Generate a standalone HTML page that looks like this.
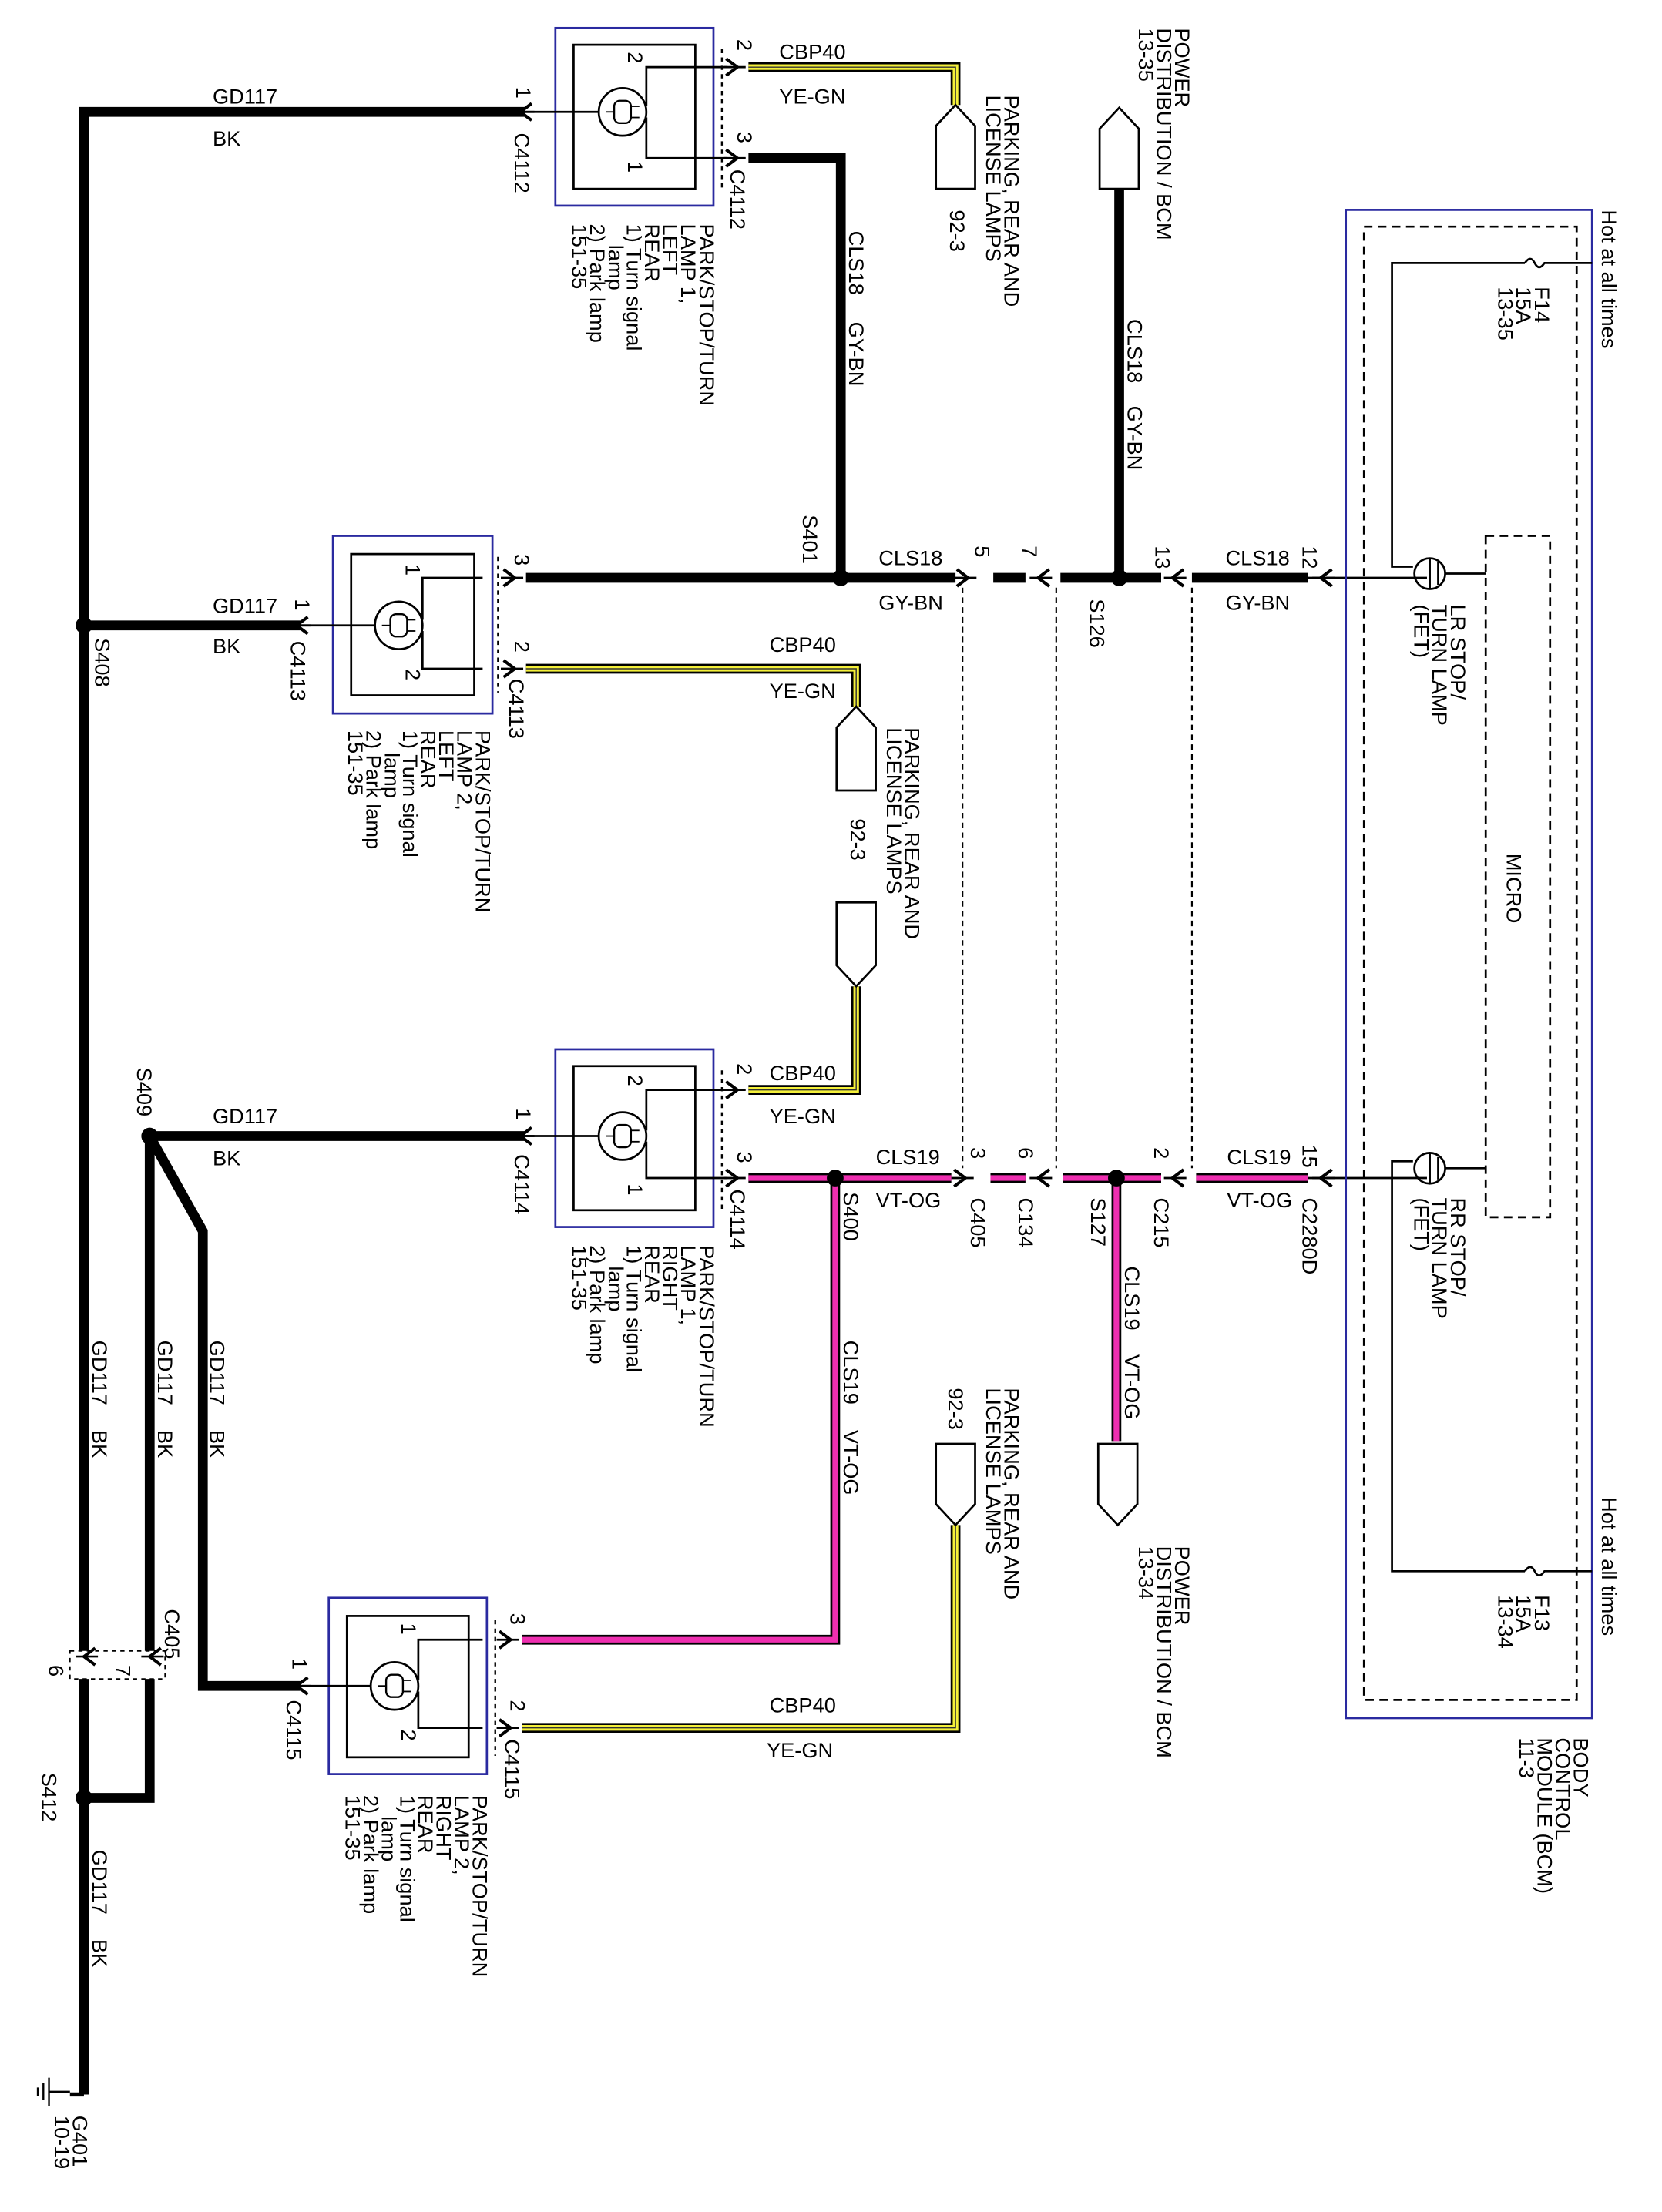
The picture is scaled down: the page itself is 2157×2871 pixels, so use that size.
<!DOCTYPE html>
<html><head><meta charset="utf-8"><style>html,body{margin:0;padding:0;background:#fff}svg{display:block}text{font-family:"Liberation Sans",sans-serif;font-size:15px;fill:#000}</style></head><body>
<svg width="2157" height="2871" viewBox="0 0 1188 1581" preserveAspectRatio="none" xmlns="http://www.w3.org/2000/svg">
<rect width="1188" height="1581" fill="#fff"/>
<defs>
<g id="pinR"><path d="M-8,-6 L0,0 L-8,6" fill="none" stroke="#000" stroke-width="2.2"/><line x1="-10" y1="0" x2="6" y2="0" stroke="#000" stroke-width="1.5"/></g>
<g id="pinL"><path d="M8,-6 L0,0 L8,6" fill="none" stroke="#000" stroke-width="2.2"/><line x1="10" y1="0" x2="-6" y2="0" stroke="#000" stroke-width="1.5"/></g>
<g id="lamp"><circle cx="0" cy="0" r="17" fill="#fff" stroke="#000" stroke-width="1.5"/><rect x="-6" y="-8" width="12" height="16" rx="4" fill="none" stroke="#000" stroke-width="1.3"/><line x1="-12" y1="0" x2="-6" y2="0" stroke="#000"/><line x1="6" y1="-4" x2="12" y2="-4" stroke="#000"/><line x1="6" y1="4" x2="12" y2="4" stroke="#000"/></g>
</defs>
<g stroke="#000" stroke-width="7" fill="none" stroke-linejoin="miter">
<path d="M375,80 H60 V1180"/>
<path d="M60,1200 V1497"/>
<path d="M60,447 H215"/>
<path d="M375,812 H107 V1180"/>
<path d="M107,1200 V1285 H60"/>
<path d="M107,812 L145,880 V1205 H215"/>
</g>
<line x1="50" y1="1497" x2="60" y2="1497" stroke="#000" stroke-width="3"/>
<g stroke="#000" stroke-width="1.3"><line x1="35" y1="1485" x2="35" y2="1505"/><line x1="31" y1="1489" x2="31" y2="1501"/><line x1="27" y1="1492" x2="27" y2="1498"/><line x1="35" y1="1495" x2="50" y2="1495"/></g>
<rect x="50" y="1180" width="68" height="20" fill="none" stroke="#000" stroke-dasharray="3,3"/>
<use href="#pinL" x="60" y="1184"/><use href="#pinL" x="107" y="1184"/>
<circle cx="60" cy="447" r="6"/><circle cx="107" cy="812" r="6"/><circle cx="60" cy="1285" r="6"/>
<g fill="none">
<rect x="397" y="20" width="113" height="127" stroke="#2a2aa0" stroke-width="1.5"/><rect x="410" y="32" width="87" height="103" stroke="#000" stroke-width="1.5"/>
<rect x="238" y="383" width="114" height="127" stroke="#2a2aa0" stroke-width="1.5"/><rect x="251" y="396" width="88" height="101" stroke="#000" stroke-width="1.5"/>
<rect x="397" y="750" width="113" height="127" stroke="#2a2aa0" stroke-width="1.5"/><rect x="410" y="762" width="87" height="103" stroke="#000" stroke-width="1.5"/>
<rect x="235" y="1142" width="113" height="126" stroke="#2a2aa0" stroke-width="1.5"/><rect x="248" y="1155" width="87" height="101" stroke="#000" stroke-width="1.5"/>
</g>
<g stroke="#000" stroke-width="1.3" stroke-dasharray="3,3"><line x1="516" y1="35" x2="516" y2="135"/><line x1="356" y1="398" x2="356" y2="495"/><line x1="516" y1="765" x2="516" y2="865"/><line x1="354" y1="1158" x2="354" y2="1255"/></g>
<g stroke="#000" stroke-width="1.5" fill="none">
<path d="M375,80 H428"/><path d="M462,76 V48 H520"/><path d="M462,84 V113 H520"/>
<path d="M215,447 H268"/><path d="M302,443 V413 H345"/><path d="M302,451 V478 H345"/>
<path d="M375,812 H428"/><path d="M462,808 V779 H520"/><path d="M462,816 V842 H520"/>
<path d="M215,1205 H265"/><path d="M299,1201 V1172 H345"/><path d="M299,1209 V1235 H345"/>
</g>
<use href="#lamp" x="445" y="80"/><use href="#lamp" x="285" y="447"/><use href="#lamp" x="445" y="812"/><use href="#lamp" x="282" y="1205"/>
<use href="#pinR" x="527" y="48"/><use href="#pinR" x="527" y="113"/><use href="#pinL" x="372" y="80"/>
<use href="#pinR" x="368" y="413"/><use href="#pinR" x="368" y="478"/><use href="#pinL" x="212" y="447"/>
<use href="#pinR" x="527" y="779"/><use href="#pinR" x="527" y="842"/><use href="#pinL" x="372" y="812"/>
<use href="#pinR" x="365" y="1172"/><use href="#pinR" x="365" y="1235"/><use href="#pinL" x="212" y="1205"/>
<g fill="none" stroke-linejoin="miter">
<path d="M535,48 H683 V75" stroke="#000" stroke-width="7"/><path d="M535,48 H683 V75" stroke="#f4f03a" stroke-width="4"/><path d="M535,48 H683 V75" stroke="#333" stroke-width="0.8"/>
<path d="M376,478 H612 V505" stroke="#000" stroke-width="7"/><path d="M376,478 H612 V505" stroke="#f4f03a" stroke-width="4"/><path d="M376,478 H612 V505" stroke="#333" stroke-width="0.8"/>
<path d="M612,705 V779 H535" stroke="#000" stroke-width="7"/><path d="M612,705 V779 H535" stroke="#f4f03a" stroke-width="4"/><path d="M612,705 V779 H535" stroke="#333" stroke-width="0.8"/>
<path d="M373,1235 H683 V1090" stroke="#000" stroke-width="7"/><path d="M373,1235 H683 V1090" stroke="#f4f03a" stroke-width="4"/><path d="M373,1235 H683 V1090" stroke="#333" stroke-width="0.8"/>
</g>
<g stroke="#000" stroke-width="7" fill="none">
<path d="M535,113 H601 V413"/><path d="M376,413 H683"/><path d="M710,413 H733"/><path d="M758,413 H830"/><path d="M852,413 H935"/><path d="M800,413 V135"/>
</g>
<line x1="935" y1="413" x2="1020" y2="413" stroke="#000" stroke-width="1.5"/>
<g fill="none" stroke-linejoin="miter">
<path d="M535,842 H680 M708,842 H733 M760,842 H830 M855,842 H935 M597,842 V1172 H373 M798,842 V1030" stroke="#000" stroke-width="7"/>
<path d="M535,842 H680 M708,842 H733 M760,842 H830 M855,842 H935 M597,842 V1172 H373 M798,842 V1030" stroke="#ee2fb0" stroke-width="4"/>
</g>
<line x1="935" y1="842" x2="1020" y2="842" stroke="#000" stroke-width="1.5"/>
<circle cx="601" cy="413" r="6"/><circle cx="800" cy="413" r="6"/><circle cx="597" cy="842" r="6"/><circle cx="798" cy="842" r="6"/>
<use href="#pinR" x="692" y="413"/><use href="#pinL" x="742" y="413"/><use href="#pinL" x="838" y="413"/><use href="#pinL" x="944" y="413"/>
<use href="#pinR" x="690" y="842"/><use href="#pinL" x="742" y="842"/><use href="#pinL" x="838" y="842"/><use href="#pinL" x="944" y="842"/>
<g stroke="#000" stroke-dasharray="4,3" stroke-width="1.2"><line x1="688" y1="420" x2="688" y2="835"/><line x1="755" y1="420" x2="755" y2="835"/><line x1="852" y1="420" x2="852" y2="835"/></g>
<g fill="#fff" stroke="#000" stroke-width="1.5">
<path d="M669,135 V90 L683,75 L697,90 V135 Z"/>
<path d="M786,135 V92 L800,77 L814,92 V135 Z"/>
<path d="M598,565 V520 L612,505 L626,520 V565 Z"/>
<path d="M598,645 V690 L612,705 L626,690 V645 Z"/>
<path d="M669,1032 V1075 L683,1090 L697,1075 V1032 Z"/>
<path d="M785,1032 V1075 L799,1090 L813,1075 V1032 Z"/>
</g>
<rect x="962" y="150" width="176" height="1078" fill="none" stroke="#2a2aa0" stroke-width="1.5"/>
<rect x="975" y="162" width="152" height="1053" fill="none" stroke="#000" stroke-width="1.5" stroke-dasharray="6,4"/>
<rect x="1062" y="383" width="46" height="487" fill="none" stroke="#000" stroke-width="1.5" stroke-dasharray="6,4"/>
<g stroke="#000" stroke-width="1.5" fill="none">
<path d="M1090,188 H995 V405 H1010"/><path d="M1090,188 q4,-6 7,0 q3,6 7,0 H1138"/>
<path d="M1090,1123 H995 V830 H1010"/><path d="M1090,1123 q4,-6 7,0 q3,6 7,0 H1138"/>
<circle cx="1022" cy="410" r="11"/><circle cx="1022" cy="835" r="11"/>
<path d="M1022,399 V421 M1028,402 V418 M1033,410 H1062"/><path d="M1022,824 V846 M1028,827 V843 M1033,835 H1062"/>
</g>
<text x="152" y="74">GD117</text><text x="152" y="104">BK</text>
<text x="152" y="438">GD117</text><text x="152" y="467">BK</text>
<text x="152" y="803">GD117</text><text x="152" y="833">BK</text>
<text x="557" y="42">CBP40</text><text x="557" y="74">YE-GN</text>
<text x="628" y="404">CLS18</text><text x="628" y="436">GY-BN</text>
<text x="876" y="404">CLS18</text><text x="876" y="436">GY-BN</text>
<text x="550" y="466">CBP40</text><text x="550" y="499">YE-GN</text>
<text x="550" y="772">CBP40</text><text x="550" y="803">YE-GN</text>
<text x="626" y="832">CLS19</text><text x="626" y="863">VT-OG</text>
<text x="877" y="832">CLS19</text><text x="877" y="863">VT-OG</text>
<text x="550" y="1224">CBP40</text><text x="548" y="1256">YE-GN</text>
<g>
<text transform="translate(369,62) rotate(90)">1</text>
<text transform="translate(368,95) rotate(90)">C4112</text>
<text transform="translate(527,28) rotate(90)">2</text>
<text transform="translate(527,94) rotate(90)">3</text>
<text transform="translate(522,121) rotate(90)">C4112</text>
<text transform="translate(449,37) rotate(90)" font-size="12">2</text><text transform="translate(449,115) rotate(90)" font-size="12">1</text>
<text transform="translate(500,160) rotate(90)">PARK/STOP/TURN</text>
<text transform="translate(487,160) rotate(90)">LAMP 1,</text>
<text transform="translate(474,160) rotate(90)">LEFT</text>
<text transform="translate(461,160) rotate(90)">REAR</text>
<text transform="translate(448,160) rotate(90)">1) Turn signal</text>
<text transform="translate(435,175) rotate(90)">lamp</text>
<text transform="translate(422,160) rotate(90)">2) Park lamp</text>
<text transform="translate(409,160) rotate(90)">151-35</text>
<text transform="translate(607,165) rotate(90)">CLS18</text><text transform="translate(607,230) rotate(90)">GY-BN</text>
<text transform="translate(718,68) rotate(90)">PARKING, REAR AND</text>
<text transform="translate(705,68) rotate(90)">LICENSE LAMPS</text>
<text transform="translate(679,150) rotate(90)">92-3</text>
<text transform="translate(840,20) rotate(90)">POWER</text>
<text transform="translate(827,20) rotate(90)">DISTRIBUTION / BCM</text>
<text transform="translate(814,20) rotate(90)">13-35</text>
<text transform="translate(806,228) rotate(90)">CLS18</text><text transform="translate(806,290) rotate(90)">GY-BN</text>
<text transform="translate(1145,150) rotate(90)">Hot at all times</text>
<text transform="translate(1097,205) rotate(90)">F14</text>
<text transform="translate(1084,205) rotate(90)">15A</text>
<text transform="translate(1071,205) rotate(90)">13-35</text>
<text transform="translate(574,368) rotate(90)">S401</text>
<text transform="translate(697,390) rotate(90)">5</text><text transform="translate(731,390) rotate(90)">7</text>
<text transform="translate(826,390) rotate(90)">13</text><text transform="translate(931,390) rotate(90)">12</text>
<text transform="translate(779,428) rotate(90)">S126</text>
<text transform="translate(1037,432) rotate(90)">LR STOP/</text>
<text transform="translate(1024,432) rotate(90)">TURN LAMP</text>
<text transform="translate(1011,432) rotate(90)">(FET)</text>
<text transform="translate(1077,610) rotate(90)">MICRO</text>
<text transform="translate(211,428) rotate(90)">1</text>
<text transform="translate(208,458) rotate(90)">C4113</text>
<text transform="translate(368,396) rotate(90)">3</text><text transform="translate(368,458) rotate(90)">2</text>
<text transform="translate(364,485) rotate(90)">C4113</text>
<text transform="translate(290,403) rotate(90)" font-size="12">1</text><text transform="translate(290,478) rotate(90)" font-size="12">2</text>
<text transform="translate(68,456) rotate(90)">S408</text>
<text transform="translate(340,522) rotate(90)">PARK/STOP/TURN</text>
<text transform="translate(327,522) rotate(90)">LAMP 2,</text>
<text transform="translate(314,522) rotate(90)">LEFT</text>
<text transform="translate(301,522) rotate(90)">REAR</text>
<text transform="translate(288,522) rotate(90)">1) Turn signal</text>
<text transform="translate(275,538) rotate(90)">lamp</text>
<text transform="translate(262,522) rotate(90)">2) Park lamp</text>
<text transform="translate(249,522) rotate(90)">151-35</text>
<text transform="translate(647,520) rotate(90)">PARKING, REAR AND</text>
<text transform="translate(634,520) rotate(90)">LICENSE LAMPS</text>
<text transform="translate(608,585) rotate(90)">92-3</text>
<text transform="translate(98,763) rotate(90)">S409</text>
<text transform="translate(369,792) rotate(90)">1</text>
<text transform="translate(368,825) rotate(90)">C4114</text>
<text transform="translate(527,760) rotate(90)">2</text><text transform="translate(527,823) rotate(90)">3</text>
<text transform="translate(522,850) rotate(90)">C4114</text>
<text transform="translate(449,768) rotate(90)" font-size="12">2</text><text transform="translate(449,846) rotate(90)" font-size="12">1</text>
<text transform="translate(500,890) rotate(90)">PARK/STOP/TURN</text>
<text transform="translate(487,890) rotate(90)">LAMP 1,</text>
<text transform="translate(474,890) rotate(90)">RIGHT</text>
<text transform="translate(461,890) rotate(90)">REAR</text>
<text transform="translate(448,890) rotate(90)">1) Turn signal</text>
<text transform="translate(435,905) rotate(90)">lamp</text>
<text transform="translate(422,890) rotate(90)">2) Park lamp</text>
<text transform="translate(409,890) rotate(90)">151-35</text>
<text transform="translate(603,852) rotate(90)">S400</text>
<text transform="translate(694,820) rotate(90)">3</text><text transform="translate(728,820) rotate(90)">6</text>
<text transform="translate(825,820) rotate(90)">2</text><text transform="translate(931,818) rotate(90)">15</text>
<text transform="translate(694,856) rotate(90)">C405</text><text transform="translate(728,856) rotate(90)">C134</text>
<text transform="translate(780,856) rotate(90)">S127</text><text transform="translate(825,856) rotate(90)">C215</text>
<text transform="translate(931,856) rotate(90)">C2280D</text>
<text transform="translate(1037,856) rotate(90)">RR STOP/</text>
<text transform="translate(1024,856) rotate(90)">TURN LAMP</text>
<text transform="translate(1011,856) rotate(90)">(FET)</text>
<text transform="translate(603,958) rotate(90)">CLS19</text><text transform="translate(603,1022) rotate(90)">VT-OG</text>
<text transform="translate(804,905) rotate(90)">CLS19</text><text transform="translate(804,968) rotate(90)">VT-OG</text>
<text transform="translate(718,992) rotate(90)">PARKING, REAR AND</text>
<text transform="translate(705,992) rotate(90)">LICENSE LAMPS</text>
<text transform="translate(678,992) rotate(90)">92-3</text>
<text transform="translate(840,1105) rotate(90)">POWER</text>
<text transform="translate(827,1105) rotate(90)">DISTRIBUTION / BCM</text>
<text transform="translate(814,1105) rotate(90)">13-34</text>
<text transform="translate(1145,1070) rotate(90)">Hot at all times</text>
<text transform="translate(1097,1140) rotate(90)">F13</text>
<text transform="translate(1084,1140) rotate(90)">15A</text>
<text transform="translate(1071,1140) rotate(90)">13-34</text>
<text transform="translate(1125,1242) rotate(90)">BODY</text>
<text transform="translate(1112,1242) rotate(90)">CONTROL</text>
<text transform="translate(1099,1242) rotate(90)">MODULE (BCM)</text>
<text transform="translate(1086,1242) rotate(90)">11-3</text>
<text transform="translate(66,958) rotate(90)">GD117</text><text transform="translate(66,1022) rotate(90)">BK</text>
<text transform="translate(113,958) rotate(90)">GD117</text><text transform="translate(113,1022) rotate(90)">BK</text>
<text transform="translate(150,958) rotate(90)">GD117</text><text transform="translate(150,1022) rotate(90)">BK</text>
<text transform="translate(118,1150) rotate(90)">C405</text>
<text transform="translate(35,1190) rotate(90)">6</text><text transform="translate(83,1190) rotate(90)">7</text>
<text transform="translate(30,1267) rotate(90)">S412</text>
<text transform="translate(66,1322) rotate(90)">GD117</text><text transform="translate(66,1386) rotate(90)">BK</text>
<text transform="translate(52,1512) rotate(90)">G401</text>
<text transform="translate(39,1512) rotate(90)">10-19</text>
<text transform="translate(209,1185) rotate(90)">1</text>
<text transform="translate(205,1215) rotate(90)">C4115</text>
<text transform="translate(365,1153) rotate(90)">3</text><text transform="translate(365,1215) rotate(90)">2</text>
<text transform="translate(361,1243) rotate(90)">C4115</text>
<text transform="translate(287,1160) rotate(90)" font-size="12">1</text><text transform="translate(287,1236) rotate(90)" font-size="12">2</text>
<text transform="translate(338,1283) rotate(90)">PARK/STOP/TURN</text>
<text transform="translate(325,1283) rotate(90)">LAMP 2,</text>
<text transform="translate(312,1283) rotate(90)">RIGHT</text>
<text transform="translate(299,1283) rotate(90)">REAR</text>
<text transform="translate(286,1283) rotate(90)">1) Turn signal</text>
<text transform="translate(273,1298) rotate(90)">lamp</text>
<text transform="translate(260,1283) rotate(90)">2) Park lamp</text>
<text transform="translate(247,1283) rotate(90)">151-35</text>
</g>
</svg>
</body></html>
